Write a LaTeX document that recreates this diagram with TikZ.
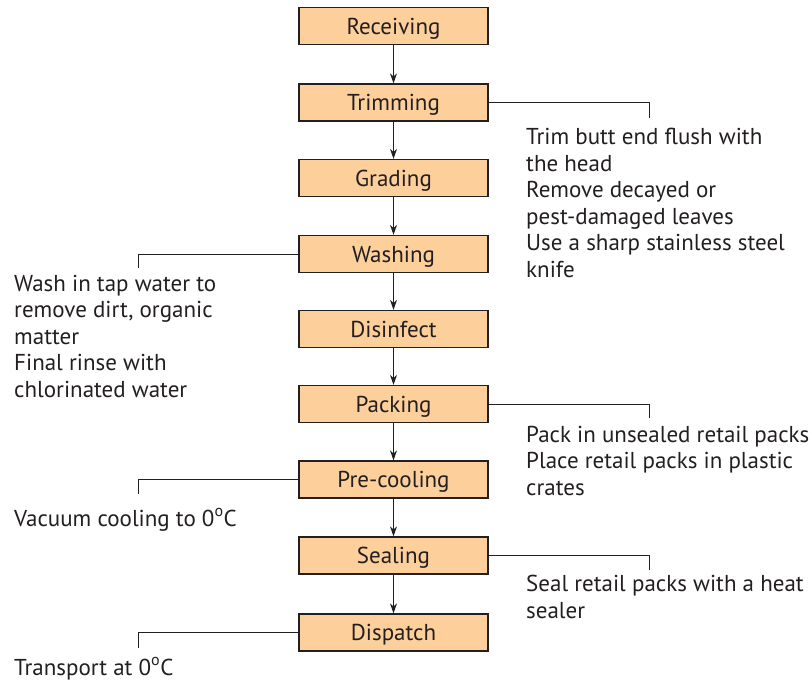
\documentclass[tikz,border=0pt]{standalone}
\usepackage{fontspec}
\setmainfont{PT Sans}
\usetikzlibrary{arrows.meta}
\definecolor{boxfill}{HTML}{FCCF9B}
\definecolor{ink}{HTML}{231F20}
\begin{document}
\begin{tikzpicture}[x=1pt,y=-1pt,
  stepbox/.style={draw=ink,line width=1.3pt,fill=boxfill,minimum width=189pt,
    minimum height=37pt,inner sep=0pt,text height=17.5pt,text depth=1.5pt,
    font=\fontsize{23}{26}\selectfont,text=ink},
  flow/.style={draw=ink,line width=1.1pt,-{Stealth[length=10pt,width=7pt]}},
  bracket/.style={draw=ink,line width=1pt},
  note/.style={anchor=base west,align=left,inner sep=0pt,text=ink,
    font=\fontsize{23}{26.5}\selectfont}]
\useasboundingbox (0,0) rectangle (812,681);

% process steps
\node[stepbox] (rec)  at (393.5,26)    {Receiving};
\node[stepbox] (trim) at (393.5,102.5) {Trimming};
\node[stepbox] (grad) at (393.5,178)   {Grading};
\node[stepbox] (wash) at (393.5,254)   {Washing};
\node[stepbox] (dis)  at (393.5,329)   {Disinfect};
\node[stepbox] (pack) at (393.5,404)   {Packing};
\node[stepbox] (pre)  at (393.5,479.5) {Pre-cooling};
\node[stepbox] (seal) at (393.5,555.5) {Sealing};
\node[stepbox] (disp) at (393.5,632.5) {Dispatch};

% flow arrows
\draw[flow] (rec)  -- (trim);
\draw[flow] (trim) -- (grad);
\draw[flow] (grad) -- (wash);
\draw[flow] (wash) -- (dis);
\draw[flow] (dis)  -- (pack);
\draw[flow] (pack) -- (pre);
\draw[flow] (pre)  -- (seal);
\draw[flow] (seal) -- (disp);

% bracket ends
\coordinate (trimend) at (649,118);
\coordinate (packend) at (649,418);
\coordinate (sealend) at (649,570);
\coordinate (washend) at (138,268);
\coordinate (preend)  at (138,494);
\coordinate (dispend) at (138,648);

\draw[bracket] (trim.east) -| (trimend);
\draw[bracket] (pack.east) -| (packend);
\draw[bracket] (seal.east) -| (sealend);
\draw[bracket] (wash.west) -| (washend);
\draw[bracket] (pre.west)  -| (preend);
\draw[bracket] (disp.west) -| (dispend);

% notes (anchored at the baseline of their last line)
\node[note] (ntrim) at (526,277) {Trim butt end flush with\\the head\\Remove decayed or\\pest-damaged leaves\\Use a sharp stainless steel\\knife};
\node[note] (nwash) at (14,397) {Wash in tap water to\\remove dirt, organic\\matter\\Final rinse with\\chlorinated water};
\node[note] (npack) at (526,495) {Pack in unsealed retail packs\\Place retail packs in plastic\\crates};
\node[note] (npre)  at (14,526) {Vacuum cooling to 0\textsuperscript{o}C};
\node[note] (nseal) at (526,618) {Seal retail packs with a heat\\sealer};
\node[note] (ndisp) at (14,675) {Transport at 0\textsuperscript{o}C};
\end{tikzpicture}
\end{document}
